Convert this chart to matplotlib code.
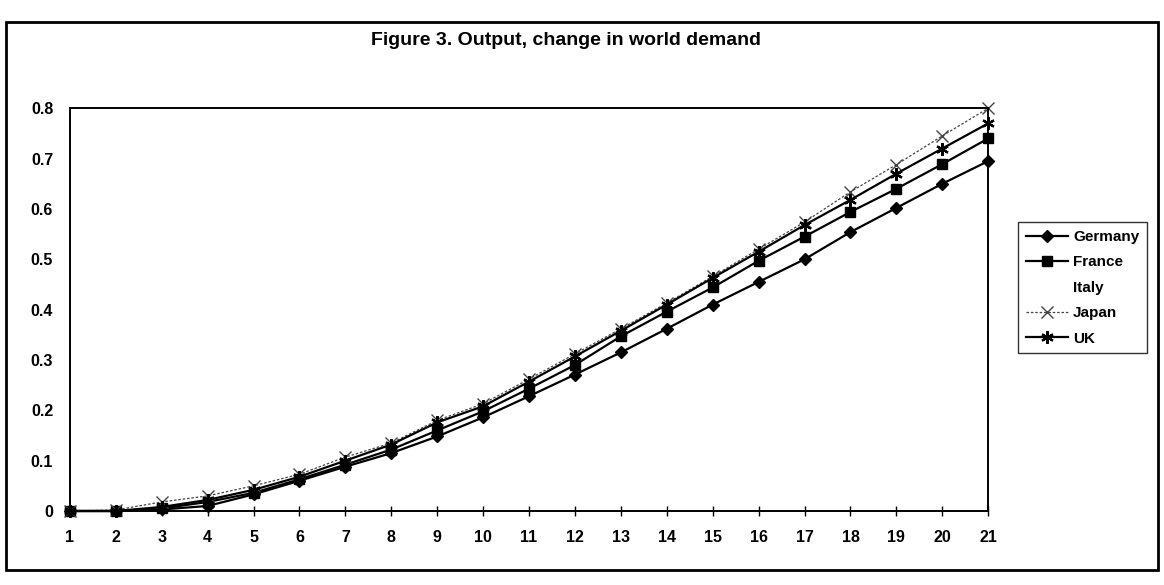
import matplotlib.pyplot as plt
from matplotlib.lines import Line2D
from matplotlib.patches import Rectangle

plt.rcParams['font.family'] = ['Liberation Sans', 'DejaVu Sans']

periods = list(range(1, 22))
germany = [0, 0, 0.003, 0.01, 0.033, 0.06, 0.088, 0.115, 0.148, 0.186, 0.228,
           0.271, 0.315, 0.362, 0.41, 0.455, 0.50, 0.554, 0.602, 0.65, 0.695]
france = [0, 0, 0.005, 0.018, 0.036, 0.063, 0.092, 0.122, 0.16, 0.198, 0.243,
          0.29, 0.347, 0.396, 0.444, 0.497, 0.545, 0.594, 0.64, 0.689, 0.74]
japan = [0, 0.002, 0.018, 0.03, 0.05, 0.073, 0.107, 0.135, 0.18, 0.213, 0.262,
         0.312, 0.362, 0.413, 0.466, 0.52, 0.574, 0.634, 0.688, 0.745, 0.80]
uk = [0, 0, 0.008, 0.022, 0.042, 0.068, 0.1, 0.132, 0.176, 0.208, 0.257,
      0.307, 0.358, 0.41, 0.463, 0.515, 0.568, 0.618, 0.67, 0.72, 0.77]
y_ticks = [0, 0.1, 0.2, 0.3, 0.4, 0.5, 0.6, 0.7, 0.8]
y_labels = ['0', '0.1', '0.2', '0.3', '0.4', '0.5', '0.6', '0.7', '0.8']

fig = plt.figure(figsize=(11.64, 5.85), dpi=100)

# outer chart border
fig.add_artist(Rectangle((0.005, 0.025), 0.99, 0.937, transform=fig.transFigure,
                         fill=False, lw=2, ec='black'))
fig.text(0.486, 0.93, 'Figure 3. Output, change in world demand',
         ha='center', va='center', fontsize=14, fontweight='bold')

ax = fig.add_axes([0.060, 0.1265, 0.789, 0.6885])
ax.plot(periods, germany, color='black', lw=1.6, marker='D', ms=6, label='Germany')
ax.plot(periods, france, color='black', lw=1.6, marker='s', ms=7, label='France')
ax.plot(periods, japan, color='#444444', lw=0.9, ls=(0, (2, 1.5)), marker='x',
        ms=8, mew=1.0, label='Japan')
ax.plot(periods, uk, color='black', lw=1.6, marker=(6, 2, 0), ms=9, mew=1.6, label='UK')

ax.set_xlim(1, 21)
ax.set_ylim(0, 0.8)
ax.set_xticks(periods)
ax.set_yticks(y_ticks)
ax.set_yticklabels(y_labels)
ax.tick_params(axis='x', direction='inout', length=7, width=1, pad=10)
ax.tick_params(axis='y', length=0, pad=12)
for lbl in ax.get_xticklabels() + ax.get_yticklabels():
    lbl.set_fontsize(11.5)
    lbl.set_fontweight('bold')
for sp in ax.spines.values():
    sp.set_linewidth(1.4)
for m in ax.lines:
    m.set_clip_on(False)

# legend with an empty entry for Italy
handles = [
    Line2D([], [], color='black', lw=1.6, marker='D', ms=6),
    Line2D([], [], color='black', lw=1.6, marker='s', ms=7),
    Line2D([], [], color='none', lw=0),
    Line2D([], [], color='#444444', lw=0.9, ls=(0, (2, 1.5)), marker='x', ms=8),
    Line2D([], [], color='black', lw=1.6, marker=(6, 2, 0), ms=9, mew=1.6),
]
leg = fig.legend(handles, ['Germany', 'France', 'Italy', 'Japan', 'UK'],
                 loc='center left', bbox_to_anchor=(0.868, 0.508),
                 frameon=True, fancybox=False, edgecolor='black',
                 prop={'size': 11, 'weight': 'bold'}, handlelength=2.8,
                 handletextpad=0.3, borderpad=0.5, labelspacing=0.75)
leg.get_frame().set_linewidth(1.0)

fig.savefig('out.png', dpi=100)
